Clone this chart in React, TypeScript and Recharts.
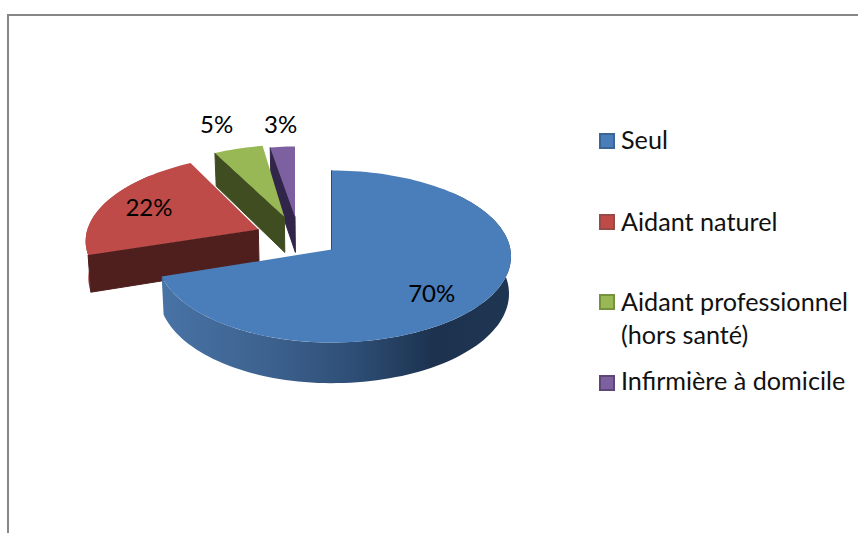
import { Legend, Pie, PieChart } from "recharts";

const NAMES = ["Seul", "Aidant naturel", "Aidant professionnel (hors santé)", "Infirmière à domicile"];
const VALUES = [70, 22, 5, 3];
const TOPS = ["#4a7ebb", "#be4b48", "#98b855", "#7d60a0"];
const WALLS = ["#1c324f", "#4f1f1e", "#3f4d20", "#312649"];
const OUTER_WALLS = ["url(#blueWall)", "#a03f3d", "#7f9a47", "#66508a"];
const LEGEND_BORDERS = ["#3a6594", "#984a48", "#76923c", "#5c4776"];

// fake 3d: each slice is drawn as a projected disc, pulled away from the centre
const CX = 331.7;
const CY = 249.5;
const RADIUS = 178.7;
const PERSPECTIVE = 0.0814;
const SLICES = [
  { dx: 0, dy: 0, sx: 1, sy: 0.478, shear: 0, left: 0.975 },
  { dx: -73.4, dy: -20.2, sx: 0.956, sy: 0.453, shear: -0.136, left: 1 },
  { dx: -47.4, dy: -32.8, sx: 0.951, sy: 0.436, shear: -0.11, left: 1 },
  { dx: -36.7, dy: -32.8, sx: 0.8, sy: 0.425, shear: 0, left: 1 },
];
const LABEL_SPOTS = [
  [100, 52],
  [-182.7, -33.5],
  [-115, -117],
  [-51, -117],
];
const LEGEND_TEXT_ROWS = [-2, 80, 160, 239];
const LEGEND_MARK_ROWS = [8, 89, 169, 250];

const data = NAMES.map((name, i) => ({ name, value: VALUES[i], fill: TOPS[i] })).reverse();

type Pt = [number, number];

function project(thetaDeg: number, s: (typeof SLICES)[number], r: number, cx: number, cy: number): Pt {
  const t = (thetaDeg * Math.PI) / 180;
  const u = Math.sin(t);
  const v = -Math.cos(t);
  const w = 1 - PERSPECTIVE * v;
  const yp = (r * s.sy * v) / w;
  const xp = ((r * s.sx * u) / w) * (u < 0 ? s.left : 1) + s.shear * yp;
  return [cx + s.dx + xp, cy + s.dy + yp];
}

function drop(p: Pt, cx: number): Pt {
  const depth = 37 + (p[1] - 250) * 0.04;
  return [p[0] + (cx - p[0]) * 0.011, p[1] + depth];
}

function arc(a: number, b: number, s: (typeof SLICES)[number], r: number, cx: number, cy: number): Pt[] {
  const pts: Pt[] = [];
  const n = Math.max(2, Math.ceil((b - a) / 2));
  for (let i = 0; i <= n; i++) pts.push(project(a + ((b - a) * i) / n, s, r, cx, cy));
  return pts;
}

const toPath = (pts: Pt[]) => "M" + pts.map((p) => `${p[0].toFixed(1)},${p[1].toFixed(1)}`).join("L") + "Z";

function Slice3D(props: any) {
  const { cx, cy, outerRadius, startAngle, endAngle, name } = props;
  const i = NAMES.indexOf(name);
  const s = SLICES[i];
  const a = 450 - endAngle;
  const b = 450 - startAngle;
  const apex: Pt = [cx + s.dx, cy + s.dy];
  const top = arc(a, b, s, outerRadius, cx, cy);

  const wa = Math.max(a, 45);
  const wb = Math.min(b, 315);
  let wall: Pt[] | null = null;
  if (wb > wa) {
    const rim = arc(wa, wb, s, outerRadius, cx, cy);
    wall = [...rim, ...rim.map((p) => drop(p, cx)).reverse()];
  }
  const face: Pt[] = [apex, top[0], drop(top[0], cx), drop(apex, cx)];

  return (
    <g>
      <defs>
        <linearGradient id="blueWall" x1="0" y1="0" x2="1" y2="0">
          <stop offset="0%" stopColor="#4873a5" />
          <stop offset="30%" stopColor="#3d628f" />
          <stop offset="55%" stopColor="#2e4e76" />
          <stop offset="78%" stopColor="#1c324f" />
          <stop offset="100%" stopColor="#1f3653" />
        </linearGradient>
      </defs>
      {wall && <path d={toPath(wall)} fill={OUTER_WALLS[i]} />}
      <path d={toPath(face)} fill={WALLS[i]} stroke={WALLS[i]} strokeWidth={1} />
      <path d={toPath([apex, ...top])} fill={TOPS[i]} />
    </g>
  );
}

function renderLabel(props: any) {
  const i = NAMES.indexOf(props.name);
  return (
    <text
      x={CX + LABEL_SPOTS[i][0]}
      y={CY + LABEL_SPOTS[i][1]}
      textAnchor="middle"
      fontFamily="Lato"
      fontSize={24}
      fill="#000"
    >
      {props.value}%
    </text>
  );
}

function LegendBlock() {
  return (
    <div style={{ position: "relative", width: 259, height: 300, fontFamily: "Lato", fontSize: 25.2, color: "#111" }}>
      {NAMES.map((name, i) => (
        <div key={name}>
          <span
            style={{
              position: "absolute",
              left: 0,
              top: LEGEND_MARK_ROWS[i],
              width: 12,
              height: 12,
              background: TOPS[i],
              border: `2px solid ${LEGEND_BORDERS[i]}`,
            }}
          />
          <div style={{ position: "absolute", left: 22, top: LEGEND_TEXT_ROWS[i], lineHeight: "33px", width: 232 }}>
            {name}
          </div>
        </div>
      ))}
    </div>
  );
}

export default function App() {
  return (
    <div style={{ position: "absolute", left: 0, top: 0, width: 858, height: 533, overflow: "hidden", background: "#fff" }}>
      <div
        style={{
          position: "absolute",
          left: 7,
          top: 14,
          width: 860,
          height: 530,
          borderLeft: "2px solid #878787",
          borderTop: "2px solid #878787",
        }}
      />
      <div style={{ position: "absolute", left: 0, top: 0 }}>
        <PieChart width={858} height={533} margin={{ top: 0, right: 0, bottom: 0, left: 0 }}>
          <Pie
            data={data}
            dataKey="value"
            nameKey="name"
            cx={CX}
            cy={CY}
            outerRadius={RADIUS}
            startAngle={90}
            endAngle={450}
            stroke="none"
            shape={Slice3D}
            label={renderLabel}
            labelLine={false}
            isAnimationActive={false}
          />
          <Legend
            content={<LegendBlock />}
            layout="vertical"
            align="right"
            verticalAlign="top"
            wrapperStyle={{ position: "absolute", left: 599, top: 125, right: "auto", width: 259 }}
          />
        </PieChart>
      </div>
    </div>
  );
}
